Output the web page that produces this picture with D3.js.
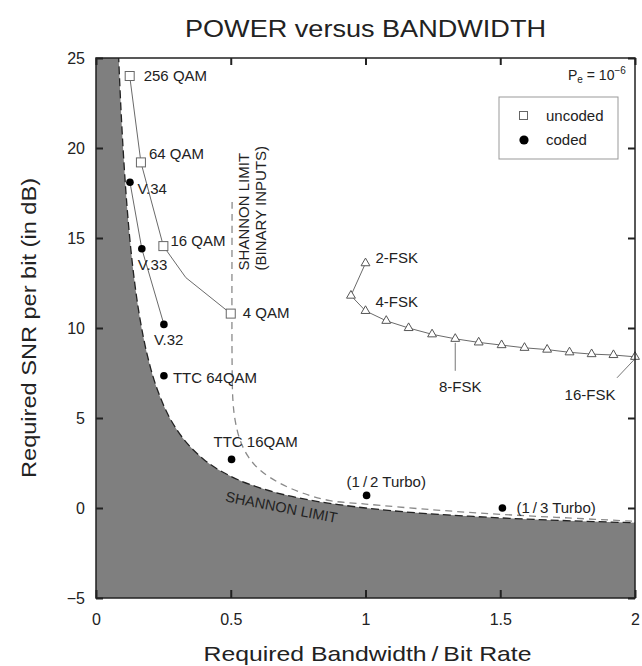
<!DOCTYPE html>
<html>
<head>
<meta charset="utf-8">
<script src="https://cdn.jsdelivr.net/npm/d3@7"></script>
<style>
  body { margin: 0; background: #fff; }
  svg { display: block; }
  text { font-family: "Liberation Sans", Arial, "Noto Sans CJK JP", sans-serif; fill: #222; }
</style>
</head>
<body>
<svg id="chart" width="642" height="666"></svg>
<script>
// ---- Uncoded QAM (squares joined by a thin line) ----
const qamNames     = ["256 QAM", "64 QAM", "16 QAM", "8 QAM", "4 QAM"];
const qamBandwidth = [0.125, 0.1667, 0.25, 0.3333, 0.5];
const qamSnr       = [24.0, 19.2, 14.55, 12.8, 10.8];
const qamLabelled  = ["256 QAM", "64 QAM", "16 QAM", "4 QAM"];

// ---- Coded schemes (filled dots) ----
const codedNames     = ["V.34", "V.33", "V.32", "TTC 64QAM", "TTC 16QAM", "(1\u2009/\u20092 Turbo)", "(1\u2009/\u20093 Turbo)"];
const codedBandwidth = [0.126, 0.17, 0.252, 0.252, 0.503, 1.004, 1.508];
const codedSnr       = [18.1, 14.4, 10.2, 7.35, 2.7, 0.7, 0.0];
const modemNames     = ["V.34", "V.33", "V.32"];

// ---- Orthogonal M-FSK, M = 2 .. 16 (triangles) ----
const fskNames     = ["2-FSK", "3-FSK", "4-FSK", "5-FSK", "6-FSK", "7-FSK", "8-FSK", "9-FSK",
                      "10-FSK", "11-FSK", "12-FSK", "13-FSK", "14-FSK", "15-FSK", "16-FSK"];
const fskBandwidth = [1.0, 0.946, 1.0, 1.077, 1.16, 1.247, 1.333, 1.42, 1.505, 1.59, 1.674, 1.757, 1.839, 1.92, 2.0];
const fskSnr       = [13.6, 11.8, 10.95, 10.4, 10.0, 9.65, 9.4, 9.2, 9.05, 8.9, 8.8, 8.65, 8.55, 8.5, 8.4];

// ---- Shannon limit ----
const shannonBandwidth = [0.05, 0.06, 0.07, 0.08, 0.09, 0.1, 0.11, 0.12, 0.135, 0.15, 0.175, 0.2, 0.25, 0.3,
                          0.35, 0.4, 0.5, 0.6, 0.7, 0.8, 0.9, 1.0, 1.2, 1.4, 1.6, 1.8, 2.0];
const shannonSnr       = [47.2, 37.95, 31.46, 26.66, 22.98, 20.10, 17.77, 15.86, 13.58, 11.79, 9.55, 7.92, 5.74, 4.35,
                          3.40, 2.70, 1.76, 1.16, 0.73, 0.42, 0.19, 0.0, -0.28, -0.47, -0.62, -0.73, -0.82];

// ---- Shannon limit for binary inputs ----
const binaryBandwidth = [0.505, 0.505, 0.508, 0.516, 0.534, 0.565, 0.609, 0.683, 0.769, 0.868, 1.0, 1.25, 1.5, 1.75, 2.0];
const binarySnr       = [17, 8, 6, 4.9, 3.8, 2.85, 2.1, 1.37, 0.82, 0.41, 0.22, -0.1, -0.35, -0.55, -0.74];

// ---- Axes ----
const xTicks = [0, 0.5, 1, 1.5, 2];
const xTickLabels = ["0", "0.5", "1", "1.5", "2"];
const yTicks = [-5, 0, 5, 10, 15, 20, 25];
const yTickLabels = ["\u22125", "0", "5", "10", "15", "20", "25"];

const zip = (xs, ys, names) => xs.map((x, i) => ({ x, y: ys[i], name: names ? names[i] : i }));

const W = 642, H = 666;
const m = { top: 58, right: 7, bottom: 68, left: 96 };
const pw = W - m.left - m.right, ph = H - m.top - m.bottom;

const x = d3.scaleLinear().domain([0, 2]).range([0, pw]);
const y = d3.scaleLinear().domain([-5, 25]).range([ph, 0]);

const svg = d3.select("#chart");
const g = svg.append("g").attr("transform", `translate(${m.left},${m.top})`);

svg.append("defs").append("clipPath").attr("id", "plot-clip")
  .append("rect").attr("width", pw).attr("height", ph);
const plot = g.append("g").attr("clip-path", "url(#plot-clip)");

// Shaded region below the Shannon limit
const shannon = zip(shannonBandwidth, shannonSnr);
const fillPts = [{ x: x.domain()[0], y: shannon[0].y }, ...shannon];
plot.append("path")
  .datum(fillPts)
  .attr("fill", "#7f7f7f")
  .attr("d", d3.area().x(d => x(d.x)).y0(y(y.domain()[0])).y1(d => y(d.y)).curve(d3.curveMonotoneX));

plot.append("path")
  .datum(shannon)
  .attr("fill", "none")
  .attr("stroke", "#222")
  .attr("stroke-width", 1.3)
  .attr("stroke-dasharray", "8,4")
  .attr("d", d3.line().x(d => x(d.x)).y(d => y(d.y)).curve(d3.curveMonotoneX));

// Binary-input limit
plot.append("path")
  .datum(zip(binaryBandwidth, binarySnr))
  .attr("fill", "none")
  .attr("stroke", "#8a8a8a")
  .attr("stroke-width", 1.3)
  .attr("stroke-dasharray", "7,5")
  .attr("d", d3.line().x(d => x(d.x)).y(d => y(d.y)).curve(d3.curveCatmullRom.alpha(0.5)));

const lineGen = d3.line().x(d => x(d.x)).y(d => y(d.y));

// QAM line + squares
const qam = zip(qamBandwidth, qamSnr, qamNames);
plot.append("path").datum(qam)
  .attr("fill", "none").attr("stroke", "#6a6a6a").attr("stroke-width", 1)
  .attr("d", lineGen);

// Modem line (V.34 - V.33 - V.32)
const coded = zip(codedBandwidth, codedSnr, codedNames);
plot.append("path").datum(coded.filter(d => modemNames.includes(d.name)))
  .attr("fill", "none").attr("stroke", "#6a6a6a").attr("stroke-width", 1)
  .attr("d", lineGen);

// FSK line
const fsk = zip(fskBandwidth, fskSnr, fskNames);
plot.append("path").datum(fsk)
  .attr("fill", "none").attr("stroke", "#6a6a6a").attr("stroke-width", 1)
  .attr("d", lineGen);

// Leader lines for 8-FSK and 16-FSK
const fsk8 = fsk.find(d => d.name === "8-FSK");
const fsk16 = fsk.find(d => d.name === "16-FSK");
g.append("line").attr("x1", x(fsk8.x)).attr("y1", y(fsk8.y) + 4).attr("x2", x(fsk8.x)).attr("y2", y(fsk8.y) + 32)
  .attr("stroke", "#777").attr("stroke-width", 1);
g.append("line").attr("x1", x(fsk16.x) - 1).attr("y1", y(fsk16.y) + 3).attr("x2", x(fsk16.x) - 18).attr("y2", y(fsk16.y) + 21)
  .attr("stroke", "#777").attr("stroke-width", 1);

// Markers
const sq = 9;
g.selectAll(".qam").data(qam.filter(d => qamLabelled.includes(d.name))).join("rect")
  .attr("x", d => x(d.x) - sq / 2).attr("y", d => y(d.y) - sq / 2)
  .attr("width", sq).attr("height", sq)
  .attr("fill", "#fff").attr("stroke", "#666").attr("stroke-width", 1);

g.selectAll(".coded").data(coded).join("circle")
  .attr("cx", d => x(d.x)).attr("cy", d => y(d.y)).attr("r", 3.8).attr("fill", "#000");

g.selectAll(".fsk").data(fsk).join("path")
  .attr("transform", d => `translate(${x(d.x)},${y(d.y)})`)
  .attr("d", d3.symbol(d3.symbolTriangle, 34))
  .attr("fill", "#fff").attr("stroke", "#555").attr("stroke-width", 1);

// Point labels: offsets in pixels from the marker
const labelOffsets = {
  "256 QAM": [14, 0, "start"], "64 QAM": [8, -9, "start"], "16 QAM": [7, -5, "start"], "4 QAM": [12, -1, "start"],
  "V.34": [7.5, 7, "start"], "V.33": [-4, 16, "start"], "V.32": [-10, 15, "start"],
  "TTC 64QAM": [9, 2, "start"], "TTC 16QAM": [-18, -18, "start"],
  [codedNames[5]]: [-20, -14, "start"], [codedNames[6]]: [14, 0, "start"],
  "2-FSK": [10, -5, "start"], "4-FSK": [10, -9, "start"], "8-FSK": [5, 48, "middle"], "16-FSK": [-45, 38, "middle"]
};
const labelled = [...qam, ...coded, ...fsk].filter(d => labelOffsets[d.name]);
g.selectAll(".lbl").data(labelled).join("text")
  .attr("x", d => x(d.x) + labelOffsets[d.name][0])
  .attr("y", d => y(d.y) + labelOffsets[d.name][1])
  .attr("dy", "0.35em")
  .attr("text-anchor", d => labelOffsets[d.name][2])
  .attr("font-size", 15)
  .text(d => d.name);

// Curve captions
const capAt = shannon.find(d => d.x === 0.5);
g.append("text")
  .attr("transform", `translate(${x(capAt.x) - 6},${y(capAt.y) + 25}) rotate(11)`)
  .attr("font-size", 14.5)
  .text("SHANNON LIMIT");

const binTop = { x: binaryBandwidth[0], y: binarySnr[0] };
const binCap = g.append("text")
  .attr("transform", `translate(${x(binTop.x) + 17},${y(13.2)}) rotate(-90)`)
  .attr("font-size", 15);
binCap.append("tspan").attr("x", 0).attr("y", 0).text("SHANNON LIMIT");
binCap.append("tspan").attr("x", 0).attr("y", 17).text("(BINARY INPUTS)");

// Axes: inward ticks on all four sides
const yAxis = d3.axisLeft(y).tickValues(yTicks).tickFormat((d, i) => yTickLabels[i]).tickSizeInner(-7).tickSizeOuter(0).tickPadding(11);
const xAxis = d3.axisBottom(x).tickValues(xTicks).tickFormat((d, i) => xTickLabels[i]).tickSizeInner(-8).tickSizeOuter(0).tickPadding(16);
const yAxisR = d3.axisRight(y).tickValues(yTicks).tickFormat("").tickSizeInner(-7).tickSizeOuter(0);
const xAxisT = d3.axisTop(x).tickValues(xTicks).tickFormat("").tickSizeInner(-7).tickSizeOuter(0);

function styleAxis(sel) {
  sel.select(".domain").remove();
  sel.selectAll(".tick line").attr("stroke", "#222").attr("stroke-width", 2);
  sel.selectAll(".tick text").attr("font-size", 16).attr("fill", "#333")
    .style("font-family", "\"Liberation Sans\", Arial, sans-serif");
}
g.append("g").call(yAxis).call(styleAxis);
g.append("g").attr("transform", `translate(0,${ph})`).call(xAxis).call(styleAxis);
g.append("g").attr("transform", `translate(${pw},0)`).call(yAxisR).call(styleAxis);
g.append("g").call(xAxisT).call(styleAxis);

g.append("rect").attr("width", pw).attr("height", ph)
  .attr("fill", "none").attr("stroke", "#222").attr("stroke-width", 1.5);

// Legend
const lg = g.append("g").attr("transform", `translate(${pw - 136},${39})`);
lg.append("rect").attr("width", 119).attr("height", 62)
  .attr("fill", "#fff").attr("stroke", "#999").attr("stroke-width", 1);
lg.append("rect").attr("x", 20.5).attr("y", 14.5).attr("width", 8).attr("height", 8)
  .attr("fill", "#fff").attr("stroke", "#666");
lg.append("text").attr("x", 47).attr("y", 19).attr("dy", "0.35em").attr("font-size", 15).text("uncoded");
lg.append("circle").attr("cx", 25).attr("cy", 43).attr("r", 4.6).attr("fill", "#000");
lg.append("text").attr("x", 47).attr("y", 43).attr("dy", "0.35em").attr("font-size", 15).text("coded");

// Error-probability note
const pe = g.append("text").attr("x", pw - 67).attr("y", 22).attr("font-size", 14);
pe.append("tspan").text("P");
pe.append("tspan").attr("font-size", 10).attr("dy", 3).text("e");
pe.append("tspan").attr("dy", -3).text(" = 10");
pe.append("tspan").attr("font-size", 10).attr("dy", -6).text("\u22126");

// Titles
svg.append("text")
  .attr("x", m.left + pw / 2).attr("y", 37)
  .attr("text-anchor", "middle").attr("font-size", 24)
  .attr("textLength", 361).attr("lengthAdjust", "spacingAndGlyphs")
  .text("POWER versus BANDWIDTH");

svg.append("text")
  .attr("x", m.left + pw / 2 + 2).attr("y", 661)
  .attr("text-anchor", "middle").attr("font-size", 21)
  .attr("textLength", 328).attr("lengthAdjust", "spacingAndGlyphs")
  .text("Required Bandwidth\u2009/\u2009Bit Rate");

svg.append("text")
  .attr("transform", `translate(36,${m.top + ph / 2}) rotate(-90)`)
  .attr("text-anchor", "middle").attr("font-size", 20)
  .attr("textLength", 300).attr("lengthAdjust", "spacingAndGlyphs")
  .text("Required SNR per bit (in dB)");
</script>
</body>
</html>
